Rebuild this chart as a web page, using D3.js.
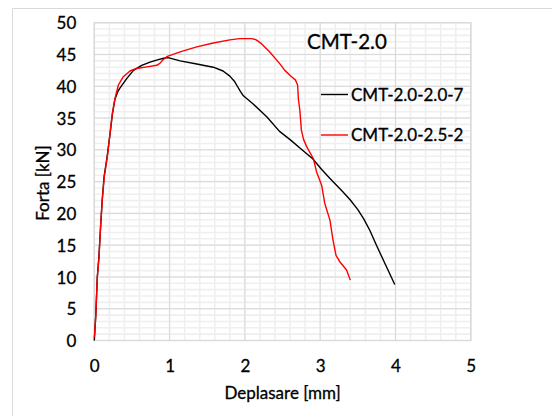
<!DOCTYPE html>
<html><head><meta charset="utf-8">
<script src="https://cdn.jsdelivr.net/npm/d3@7"></script>
<style>html,body{margin:0;padding:0;background:#fff;}svg{display:block;}</style>
</head><body>
<svg id="chart" width="552" height="416"></svg>
<script>
const seriesNames = ["CMT-2.0-2.0-7", "CMT-2.0-2.5-2"];
const seriesColors = ["#000000", "#ff0000"];
const chartTitle = "CMT-2.0";
const xLabel = "Deplasare [mm]";
const yLabel = "Forta [kN]";
const xTicks = [0, 1, 2, 3, 4, 5];
const yTicks = [0, 5, 10, 15, 20, 25, 30, 35, 40, 45, 50];

const blackX = [0, 0.005, 0.02, 0.04, 0.06, 0.085, 0.105, 0.13, 0.17, 0.21, 0.24, 0.275, 0.31, 0.34, 0.43, 0.52, 0.63, 0.74, 0.85, 0.92, 0.98, 1.14, 1.36, 1.58, 1.71, 1.80, 1.86, 1.90, 1.94, 1.98, 2.11, 2.29, 2.46, 2.60, 2.75, 2.90, 3.02, 3.13, 3.22, 3.30, 3.40, 3.50, 3.58, 3.66, 3.75, 3.88, 3.99];
const blackY = [0, 1.0, 4.0, 10.0, 13.0, 18.2, 22.1, 25.8, 28.9, 32.6, 35.6, 38.0, 39.1, 39.7, 41.2, 42.5, 43.3, 43.8, 44.2, 44.4, 44.5, 44.0, 43.5, 43.0, 42.4, 41.6, 40.8, 40.0, 39.2, 38.5, 37.2, 35.2, 32.9, 31.6, 30.1, 28.6, 26.9, 25.5, 24.4, 23.4, 22.1, 20.6, 19.1, 17.3, 14.9, 11.6, 8.8];

const redX = [0, 0.005, 0.02, 0.04, 0.062, 0.085, 0.106, 0.133, 0.173, 0.209, 0.239, 0.275, 0.32, 0.385, 0.474, 0.56, 0.70, 0.83, 0.87, 0.916, 0.97, 1.14, 1.36, 1.58, 1.80, 1.93, 2.09, 2.15, 2.22, 2.33, 2.46, 2.53, 2.62, 2.67, 2.70, 2.71, 2.73, 2.75, 2.78, 2.82, 2.91, 2.95, 3.02, 3.06, 3.13, 3.17, 3.21, 3.26, 3.35, 3.40];
const redY = [0.5, 1.2, 4.0, 10.0, 13.0, 18.2, 22.1, 25.8, 28.9, 32.6, 35.7, 38.1, 40.2, 41.5, 42.4, 42.8, 43.05, 43.3, 43.6, 44.2, 44.7, 45.4, 46.2, 46.8, 47.3, 47.5, 47.5, 47.3, 46.7, 45.4, 43.6, 42.5, 41.5, 41.0, 40.2, 38.0, 36.2, 33.1, 31.6, 30.5, 28.6, 26.6, 24.4, 21.6, 18.9, 15.8, 13.4, 12.4, 11.1, 9.5];

const FONT = "Lato, 'Open Sans', sans-serif";
const TXT = "#000";
const svg = d3.select("#chart");

// outer chart frame (top and left edges visible)
svg.append("line").attr("x1", 12.5).attr("x2", 552).attr("y1", 8.5).attr("y2", 8.5).attr("stroke", "#d9d9d9");
svg.append("line").attr("x1", 12.5).attr("x2", 12.5).attr("y1", 8.5).attr("y2", 416).attr("stroke", "#d9d9d9");

const x = d3.scaleLinear().domain([0, 5]).range([94.3, 470.8]);
const y = d3.scaleLinear().domain([0, 50]).range([340.5, 22.7]);

const g = svg.append("g");
// minor grid
g.selectAll("line.vminor").data(d3.range(0, 5.0001, 0.2)).enter().append("line")
  .attr("x1", d => x(d)).attr("x2", d => x(d)).attr("y1", y(50)).attr("y2", y(0))
  .attr("stroke", "#efefef").attr("stroke-width", 1.6);
g.selectAll("line.hminor").data(d3.range(0, 50.001, 1)).enter().append("line")
  .attr("y1", d => y(d)).attr("y2", d => y(d)).attr("x1", x(0)).attr("x2", x(5))
  .attr("stroke", "#efefef").attr("stroke-width", 1.6);
// major grid
g.selectAll("line.vmajor").data(xTicks).enter().append("line")
  .attr("x1", d => x(d)).attr("x2", d => x(d)).attr("y1", y(50)).attr("y2", y(0))
  .attr("stroke", "#d9d9d9").attr("stroke-width", 1);
g.selectAll("line.hmajor").data(yTicks).enter().append("line")
  .attr("y1", d => y(d)).attr("y2", d => y(d)).attr("x1", x(0)).attr("x2", x(5))
  .attr("stroke", "#d9d9d9").attr("stroke-width", 1);
g.append("rect").attr("x", x(0)).attr("y", y(50)).attr("width", x(5) - x(0)).attr("height", y(0) - y(50))
  .attr("fill", "none").attr("stroke", "#d9d9d9").attr("stroke-width", 1.2);

function styleText(sel, size) {
  sel.attr("font-family", FONT).attr("font-size", size).attr("fill", TXT)
    .attr("stroke", TXT).attr("stroke-width", 0.3);
}

// axes (labels only)
const xAxis = d3.axisBottom(x).tickValues(xTicks).tickSize(0).tickPadding(0).tickFormat(d3.format("d"));
const yAxis = d3.axisLeft(y).tickValues(yTicks).tickSize(0).tickPadding(0).tickFormat(d3.format("d"));
const gx = svg.append("g").attr("transform", `translate(0,${y(0)})`).call(xAxis);
gx.select(".domain").remove();
gx.selectAll("text").attr("y", 31).attr("dy", null).call(styleText, 17);
const gy = svg.append("g").attr("transform", `translate(${x(0) - 18},0)`).call(yAxis);
gy.select(".domain").remove();
gy.selectAll("text").attr("x", 0).attr("dy", "0.36em").call(styleText, 17);

// lines
const line = d3.line().x(d => x(d[0])).y(d => y(d[1]));
const series = [d3.zip(blackX, blackY), d3.zip(redX, redY)];
series.forEach((s, i) => {
  svg.append("path").datum(s).attr("d", line).attr("fill", "none")
    .attr("stroke", seriesColors[i]).attr("stroke-width", 1.4).attr("stroke-linejoin", "round");
});

// title
svg.append("text").attr("x", 307).attr("y", 48.5).text(chartTitle).call(styleText, 20.5);

// legend
const legY = [94.5, 135];
seriesNames.forEach((n, i) => {
  svg.append("line").attr("x1", 321).attr("x2", 348).attr("y1", legY[i]).attr("y2", legY[i])
    .attr("stroke", seriesColors[i]).attr("stroke-width", 1.4);
  svg.append("text").attr("x", 351).attr("y", legY[i] + 6).text(n).call(styleText, 17);
});

// axis titles
svg.append("text").attr("x", (x(0) + x(5)) / 2).attr("y", 398.5).attr("text-anchor", "middle").text(xLabel).call(styleText, 17);
svg.append("text").attr("transform", "translate(49,183) rotate(-90)").attr("text-anchor", "middle").text(yLabel).call(styleText, 17);
</script>
</body></html>
